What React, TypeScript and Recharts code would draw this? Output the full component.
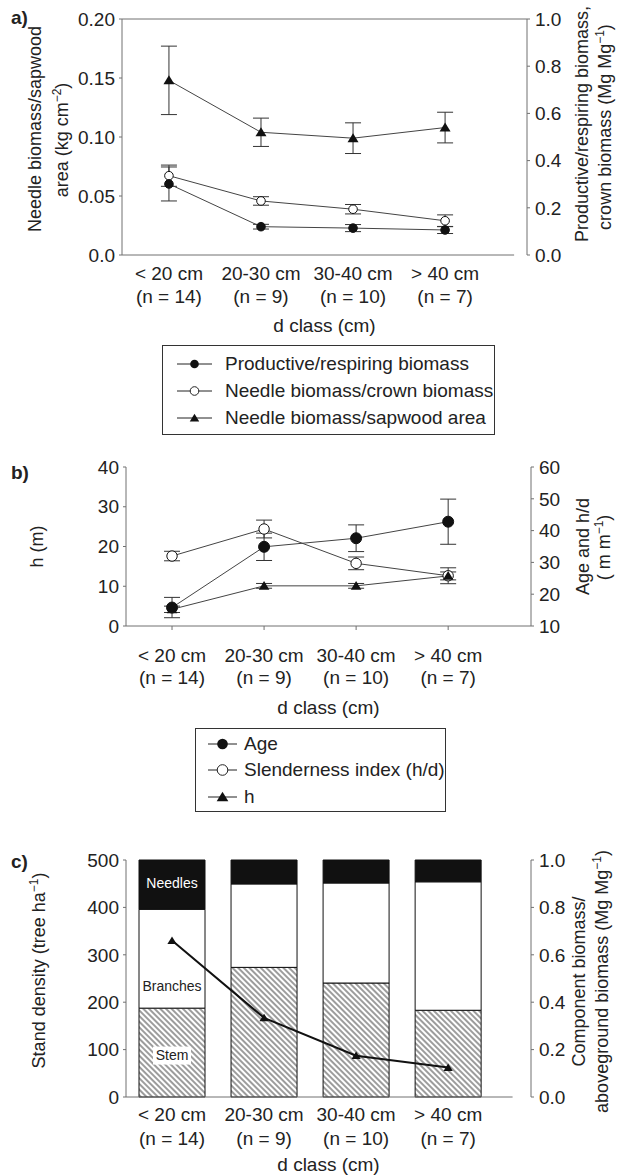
import React from 'react'
import { ComposedChart, Line, Bar, XAxis, YAxis, ErrorBar, ReferenceLine, LabelList } from 'recharts'

const CLASSES = ['< 20 cm', '20-30 cm', '30-40 cm', '> 40 cm']
const N_LABELS = ['(n = 14)', '(n = 9)', '(n = 10)', '(n = 7)']
const X_TICKS = [0, 1, 2, 3]

// a) needle biomass / sapwood area (left axis), ratios (right axis)
const SAPWOOD = [0.148, 0.104, 0.099, 0.108]
const SAPWOOD_ERR = [0.029, 0.012, 0.013, 0.013]
const CROWN = [0.336, 0.229, 0.194, 0.145]
const CROWN_ERR = [0.045, 0.018, 0.02, 0.025]
const PRODUCTIVE = [0.301, 0.12, 0.114, 0.106]
const PRODUCTIVE_ERR = [0.072, 0.01, 0.015, 0.015]
const A_LEFT_TICKS = [0, 0.05, 0.1, 0.15, 0.2]
const A_RIGHT_TICKS = [0, 0.2, 0.4, 0.6, 0.8, 1.0]

// b) age and slenderness (right axis), height (left axis)
const AGE = [15.8, 34.9, 37.6, 42.8]
const AGE_ERR = [3.2, 4.3, 4.2, 7.1]
const SLENDER = [32.0, 40.5, 29.7, 25.8]
const SLENDER_ERR = [1.5, 2.8, 2.0, 2.5]
const HEIGHT = [4.2, 10.1, 10.1, 12.6]
const HEIGHT_ERR = [0.8, 0.6, 0.6, 1.0]
const B_LEFT_TICKS = [0, 10, 20, 30, 40]
const B_RIGHT_TICKS = [10, 20, 30, 40, 50, 60]

// c) biomass fractions (right axis), stand density (left axis)
const STEM = [0.375, 0.547, 0.481, 0.366]
const BRANCHES = [0.417, 0.352, 0.422, 0.542]
const NEEDLES = [0.208, 0.101, 0.097, 0.092]
const DENSITY = [330, 167, 87, 62]
const C_LEFT_TICKS = [0, 100, 200, 300, 400, 500]
const C_RIGHT_TICKS = [0, 0.2, 0.4, 0.6, 0.8, 1.0]

const dataA = X_TICKS.map(i => ({
  x: i,
  sapwood: SAPWOOD[i], sapwoodErr: SAPWOOD_ERR[i],
  crown: CROWN[i], crownErr: CROWN_ERR[i],
  productive: PRODUCTIVE[i], productiveErr: PRODUCTIVE_ERR[i],
}))
const dataB = X_TICKS.map(i => ({
  x: i,
  age: AGE[i], ageErr: AGE_ERR[i],
  slender: SLENDER[i], slenderErr: SLENDER_ERR[i],
  h: HEIGHT[i], hErr: HEIGHT_ERR[i],
}))
const dataC = X_TICKS.map(i => ({
  x: i, stem: STEM[i], branches: BRANCHES[i], needles: NEEDLES[i], density: DENSITY[i],
}))

const FONT = '"Liberation Sans", Arial, Helvetica, sans-serif'
const INK = '#222'
const AXIS = '#707070'
const LINE = '#444'
const tickStyle = { fontSize: 19, fill: INK, fontFamily: FONT }

function classTick(l1: number, l2: number) {
  return (p: any) => (
    <g>
      <text x={p.x} y={p.y + l1} textAnchor="middle" {...tickStyle}>{CLASSES[p.payload.value]}</text>
      <text x={p.x} y={p.y + l2} textAnchor="middle" {...tickStyle}>{N_LABELS[p.payload.value]}</text>
    </g>
  )
}

function xTitle(dy: number) {
  return (p: any) => {
    const vb = p.viewBox
    return (
      <text x={vb.x + vb.width / 2} y={vb.y + dy} textAnchor="middle" {...tickStyle}>d class (cm)</text>
    )
  }
}

function yTitle(lines: React.ReactNode[], xs: number[], shift: number[]) {
  return (p: any) => {
    const vb = p.viewBox
    return (
      <g>
        {lines.map((line, k) => {
          const cx = vb.x + xs[k]
          const cy = vb.y + vb.height / 2 + shift[k]
          return (
            <text key={k} x={cx} y={cy} dy="0.35em" textAnchor="middle" transform={`rotate(-90 ${cx} ${cy})`}
              fontSize={18} fill={INK} fontFamily={FONT}>{line}</text>
          )
        })}
      </g>
    )
  }
}

const sup = (s: string) => [
  <tspan key="s" dy={-7} fontSize={12}>{s}</tspan>,
  <tspan key="p" dy={7}>)</tspan>,
]

const circleDot = (r: number, fill: string) => (p: any) => (
  <circle key={`c${p.index}`} cx={p.cx} cy={p.cy} r={r} fill={fill} stroke="#111" strokeWidth={1} />
)
const triangleDot = (s: number) => (p: any) => {
  const { cx, cy } = p
  return (
    <polygon key={`t${p.index}`} fill="#111"
      points={`${cx},${cy - s} ${cx - s * 1.1},${cy + s * 0.8} ${cx + s * 1.1},${cy + s * 0.8}`} />
  )
}

function barLabel(text: string, color: string, where: 'mid' | 'low', bg: boolean, shift: number) {
  return (p: any) => {
    if (p.index !== 0) return <g />
    const cx = p.x + p.width / 2
    const cy = where === 'mid' ? p.y + p.height / 2 + shift : p.y + p.height + shift
    return (
      <g>
        {bg && <rect x={cx - 19} y={cy - 9} width={38} height={18} fill="#fff" />}
        <text x={cx} y={cy} dy="0.35em" textAnchor="middle" fontSize={14} fill={color} fontFamily={FONT}>{text}</text>
      </g>
    )
  }
}

type Row = { label: string, marker: 'filled' | 'open' | 'triangle' }

function LegendBox({ left, top, width, height, rows, rowYs, symX, symW, textX, size }:
  { left: number, top: number, width: number, height: number, rows: Row[], rowYs: number[], symX: number, symW: number, textX: number, size: number }) {
  return (
    <div style={{ position: 'absolute', left, top, width, height, boxSizing: 'border-box', border: '1px solid #333', background: '#fff' }}>
      {rows.map((r, k) => (
        <React.Fragment key={r.label}>
          <svg style={{ position: 'absolute', left: symX, top: rowYs[k] - 10 }} width={symW} height={20}>
            <line x1={0} y1={10} x2={symW} y2={10} stroke="#222" strokeWidth={1} />
            {r.marker === 'filled' && <circle cx={symW / 2} cy={10} r={size} fill="#111" />}
            {r.marker === 'open' && <circle cx={symW / 2} cy={10} r={size} fill="#fff" stroke="#222" />}
            {r.marker === 'triangle' && (
              <polygon fill="#111" points={`${symW / 2},${10 - size} ${symW / 2 - size * 1.1},${10 + size * 0.8} ${symW / 2 + size * 1.1},${10 + size * 0.8}`} />
            )}
          </svg>
          <div style={{ position: 'absolute', left: textX, top: rowYs[k] - 12, lineHeight: '24px', fontSize: 19, fontFamily: FONT, color: INK, whiteSpace: 'nowrap' }}>
            {r.label}
          </div>
        </React.Fragment>
      ))}
    </div>
  )
}

const panelLetter = (text: string, top: number) => (
  <div style={{ position: 'absolute', left: 11, top, fontSize: 19, fontWeight: 'bold', fontFamily: FONT, color: INK, lineHeight: '22px' }}>{text}</div>
)

export default function App() {
  return (
    <div style={{ position: 'absolute', left: 0, top: 0, width: 617, height: 1176, background: '#fff', overflow: 'hidden' }}>
      <svg width={0} height={0} style={{ position: 'absolute' }}>
        <defs>
          <pattern id="stemHatch" patternUnits="userSpaceOnUse" width={4} height={4} patternTransform="rotate(-45)">
            <line x1={2} y1={0} x2={2} y2={4} stroke="#222" strokeWidth={0.9} />
          </pattern>
        </defs>
      </svg>

      {panelLetter('a)', 7)}
      <div style={{ position: 'absolute', left: 0, top: 0 }}>
        <ComposedChart width={617} height={340} data={dataA} margin={{ top: 19, right: 0, bottom: 0, left: 0 }}>
          <XAxis dataKey="x" type="number" domain={[-0.51, 3.89]} ticks={X_TICKS} interval={0} height={85}
            axisLine={false} tickLine={false} tickSize={0} tickMargin={0} tick={classTick(24.5, 47.5)} label={xTitle(76.5)} />
          <YAxis yAxisId="left" domain={[0, 0.2]} ticks={A_LEFT_TICKS} interval={0} width={122} stroke={AXIS}
            tick={tickStyle} tickSize={3} tickMargin={4} tickFormatter={(v: number) => (v === 0 ? '0.0' : v.toFixed(2))}
            label={yTitle(['Needle biomass/sapwood', <>area (kg cm{sup('−2')}</>], [35, 62], [-8, 3])} />
          <YAxis yAxisId="right" orientation="right" domain={[0, 1]} ticks={A_RIGHT_TICKS} interval={0} width={90} stroke={AXIS}
            tick={tickStyle} tickSize={3} tickMargin={5} tickFormatter={(v: number) => v.toFixed(1)}
            label={yTitle(['Productive/respiring biomass,', <>crown biomass (Mg Mg{sup('−1')}</>], [55, 78], [-13, -10])} />
          <ReferenceLine yAxisId="left" segment={[{ x: -0.51, y: 0 }, { x: 3.75, y: 0 }]} stroke={AXIS} strokeWidth={1} />
          <ReferenceLine yAxisId="left" y={0.2} stroke={AXIS} strokeWidth={1} />
          <Line yAxisId="left" dataKey="sapwood" stroke={LINE} strokeWidth={1} dot={triangleDot(5)} activeDot={false} isAnimationActive={false}>
            <ErrorBar dataKey="sapwoodErr" width={8} stroke="#333" strokeWidth={1} />
          </Line>
          <Line yAxisId="right" dataKey="crown" stroke={LINE} strokeWidth={1} dot={circleDot(4.3, '#fff')} activeDot={false} isAnimationActive={false}>
            <ErrorBar dataKey="crownErr" width={8} stroke="#333" strokeWidth={1} />
          </Line>
          <Line yAxisId="right" dataKey="productive" stroke={LINE} strokeWidth={1} dot={circleDot(4.3, '#111')} activeDot={false} isAnimationActive={false}>
            <ErrorBar dataKey="productiveErr" width={8} stroke="#333" strokeWidth={1} />
          </Line>
        </ComposedChart>
      </div>

      <LegendBox left={162} top={345} width={333} height={90} size={4.3}
        rows={[
          { label: 'Productive/respiring biomass', marker: 'filled' },
          { label: 'Needle biomass/crown biomass', marker: 'open' },
          { label: 'Needle biomass/sapwood area', marker: 'triangle' },
        ]}
        rowYs={[18, 45, 72]} symX={14} symW={35} textX={62} />

      {panelLetter('b)', 462)}
      <div style={{ position: 'absolute', left: 0, top: 440 }}>
        <ComposedChart width={617} height={281} data={dataB} margin={{ top: 27, right: 0, bottom: 0, left: 0 }}>
          <XAxis dataKey="x" type="number" domain={[-0.5, 3.9]} ticks={X_TICKS} interval={0} height={95} stroke={AXIS}
            tickSize={4} tickMargin={0} tick={classTick(31.5, 53.5)} label={xTitle(87.5)} />
          <XAxis xAxisId="top" orientation="top" dataKey="x" type="number" domain={[-0.5, 3.9]} ticks={X_TICKS} interval={0}
            height={0} axisLine={false} tick={false} tickSize={3} stroke={AXIS} />
          <YAxis yAxisId="left" domain={[0, 40]} ticks={B_LEFT_TICKS} interval={0} width={126} stroke={AXIS}
            tick={tickStyle} tickSize={3} tickMargin={4}
            label={yTitle(['h (m)'], [37], [0])} />
          <YAxis yAxisId="right" orientation="right" domain={[10, 60]} ticks={B_RIGHT_TICKS} interval={0} width={86} stroke={AXIS}
            tick={tickStyle} tickSize={3} tickMargin={5}
            label={yTitle(['Age and h/d', <>( m m{sup('−1')}</>], [52, 73], [0, 1])} />
          <Line yAxisId="right" dataKey="slender" stroke={LINE} strokeWidth={1} dot={circleDot(5.2, '#fff')} activeDot={false} isAnimationActive={false}>
            <ErrorBar dataKey="slenderErr" width={8} stroke="#333" strokeWidth={1} />
          </Line>
          <Line yAxisId="right" dataKey="age" stroke={LINE} strokeWidth={1} dot={circleDot(5.5, '#111')} activeDot={false} isAnimationActive={false}>
            <ErrorBar dataKey="ageErr" width={8} stroke="#333" strokeWidth={1} />
          </Line>
          <Line yAxisId="left" dataKey="h" stroke={LINE} strokeWidth={1} dot={triangleDot(4.8)} activeDot={false} isAnimationActive={false}>
            <ErrorBar dataKey="hErr" width={8} stroke="#333" strokeWidth={1} />
          </Line>
        </ComposedChart>
      </div>

      <LegendBox left={195} top={728} width={251} height={84} size={5.3}
        rows={[
          { label: 'Age', marker: 'filled' },
          { label: 'Slenderness index (h/d)', marker: 'open' },
          { label: 'h', marker: 'triangle' },
        ]}
        rowYs={[15, 41, 68]} symX={12} symW={29} textX={48} />

      {panelLetter('c)', 851)}
      <div style={{ position: 'absolute', left: 0, top: 840 }}>
        <ComposedChart width={617} height={336} data={dataC} margin={{ top: 20, right: 0, bottom: 0, left: 0 }}>
          <XAxis dataKey="x" type="number" domain={[-0.5, 3.9]} ticks={X_TICKS} interval={0} height={79}
            axisLine={false} tickLine={false} tickSize={0} tickMargin={0} tick={classTick(23.5, 48)} label={xTitle(73.5)} />
          <YAxis yAxisId="left" domain={[0, 500]} ticks={C_LEFT_TICKS} interval={0} width={126} stroke={AXIS}
            tick={tickStyle} tickSize={3} tickMargin={4}
            label={yTitle([<>Stand density (tree ha{sup('−1')}</>], [39], [-8])} />
          <YAxis yAxisId="right" orientation="right" domain={[0, 1]} ticks={C_RIGHT_TICKS} interval={0} width={86} stroke={AXIS}
            tick={tickStyle} tickSize={3} tickMargin={5} tickFormatter={(v: number) => v.toFixed(1)}
            label={yTitle(['Component biomass/', <>aboveground biomass (Mg Mg{sup('−1')}</>], [48, 71], [3, 3])} />
          <ReferenceLine yAxisId="left" segment={[{ x: -0.5, y: 0 }, { x: 3.7, y: 0 }]} stroke={AXIS} strokeWidth={1} />
          <Bar yAxisId="right" dataKey="stem" stackId="s" barSize={66} fill="url(#stemHatch)" stroke="#111" strokeWidth={1} isAnimationActive={false}>
            <LabelList dataKey="stem" content={barLabel('Stem', INK, 'mid', true, 3)} />
          </Bar>
          <Bar yAxisId="right" dataKey="branches" stackId="s" barSize={66} fill="#fff" stroke="#111" strokeWidth={1} isAnimationActive={false}>
            <LabelList dataKey="branches" content={barLabel('Branches', INK, 'low', false, -22)} />
          </Bar>
          <Bar yAxisId="right" dataKey="needles" stackId="s" barSize={66} fill="#111" stroke="#111" strokeWidth={1} isAnimationActive={false}>
            <LabelList dataKey="needles" content={barLabel('Needles', '#fff', 'mid', false, -2)} />
          </Bar>
          <Line yAxisId="left" dataKey="density" stroke="#111" strokeWidth={2} dot={triangleDot(4.2)} activeDot={false} isAnimationActive={false} />
        </ComposedChart>
      </div>
    </div>
  )
}
